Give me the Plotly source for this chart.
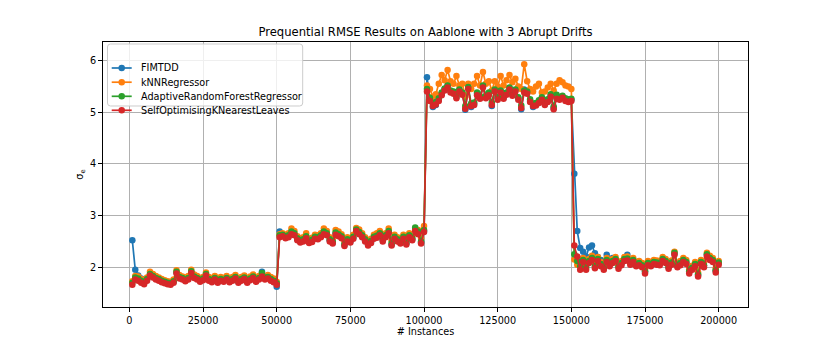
import plotly.graph_objects as go

instances = list(range(1000, 200001, 1000))

fimtdd_1 = [2.52,1.95,1.84,1.78,1.71,1.77,1.86,1.82,1.78,1.76,1.73,1.71,1.69,1.68,1.72,1.90,1.80,1.78,1.75,1.78,1.91,1.81,1.78,1.74,1.77,1.86,1.76,1.73,1.78,1.72,1.76,1.74,1.78,1.73,1.76,1.80,1.72,1.76,1.79,1.72,1.77,1.81,1.74,1.78,1.91,1.79,1.80,1.76,1.72,1.62]
fimtdd_2 = [2.69,2.62,2.58,2.60,2.66,2.63,2.54,2.50,2.52,2.58,2.49,2.51,2.57,2.56,2.60,2.66,2.64,2.52,2.48,2.65,2.62,2.58,2.43,2.52,2.50,2.57,2.71,2.66,2.60,2.52,2.44,2.49,2.57,2.59,2.64,2.52,2.60,2.68,2.44,2.57,2.52,2.48,2.57,2.46,2.60,2.54,2.72,2.66,2.48,2.70]
fimtdd_3 = [5.68,5.26,5.10,5.14,5.24,5.36,5.45,5.52,5.40,5.39,5.30,5.43,5.37,5.05,5.47,5.10,5.16,5.36,5.28,5.50,5.30,5.36,5.12,5.42,5.27,5.41,5.28,5.37,5.47,5.34,5.43,5.27,5.06,5.44,5.38,5.22,5.10,5.15,5.20,5.27,5.16,5.22,5.32,5.08,5.28,5.26,5.30,5.24,5.22,5.24]
fimtdd_4 = [3.81,2.70,2.37,2.30,2.21,2.38,2.42,2.27,2.20,2.14,2.10,2.24,2.15,2.18,2.14,2.03,2.08,2.15,2.24,2.10,2.13,2.05,2.07,2.03,1.91,2.07,2.05,2.09,2.08,2.07,2.15,2.11,2.00,2.08,2.26,2.03,2.07,2.13,2.09,1.91,1.98,2.05,1.85,2.09,2.03,2.24,2.17,2.13,1.93,2.08]

knn_1 = [1.73,1.83,1.82,1.77,1.73,1.80,1.91,1.87,1.83,1.80,1.77,1.75,1.73,1.72,1.76,1.94,1.85,1.82,1.80,1.83,1.95,1.86,1.83,1.79,1.81,1.90,1.81,1.78,1.83,1.77,1.81,1.79,1.83,1.78,1.81,1.85,1.77,1.81,1.84,1.77,1.82,1.86,1.79,1.83,1.87,1.82,1.85,1.81,1.78,1.72]
knn_2 = [2.64,2.66,2.63,2.66,2.75,2.70,2.60,2.56,2.58,2.66,2.55,2.57,2.63,2.62,2.66,2.75,2.70,2.58,2.55,2.72,2.69,2.64,2.50,2.58,2.56,2.63,2.76,2.73,2.66,2.58,2.50,2.55,2.63,2.66,2.70,2.58,2.66,2.75,2.52,2.63,2.58,2.55,2.63,2.53,2.66,2.60,2.74,2.72,2.55,2.80]
knn_3 = [5.52,5.45,5.30,5.35,5.55,5.72,5.62,5.82,5.60,5.55,5.70,5.52,5.55,5.30,5.55,5.45,5.55,5.70,5.52,5.78,5.55,5.60,5.42,5.60,5.50,5.70,5.52,5.62,5.72,5.58,5.65,5.50,5.45,5.93,5.60,5.45,5.40,5.50,5.55,5.38,5.40,5.48,5.55,5.42,5.55,5.62,5.58,5.52,5.50,5.45]
knn_4 = [2.15,2.05,2.08,2.18,2.03,2.16,2.22,2.06,2.20,2.10,2.03,2.18,2.10,2.16,2.20,2.05,2.12,2.20,2.21,2.13,2.18,2.10,2.12,2.08,1.96,2.12,2.10,2.14,2.13,2.12,2.20,2.16,2.05,2.13,2.30,2.08,2.12,2.18,2.14,1.96,2.03,2.10,1.90,2.14,2.08,2.28,2.22,2.18,1.98,2.12]

arf_1 = [1.70,1.80,1.78,1.74,1.70,1.77,1.87,1.83,1.79,1.77,1.74,1.72,1.70,1.69,1.73,1.91,1.81,1.79,1.76,1.79,1.92,1.82,1.79,1.75,1.78,1.87,1.77,1.74,1.79,1.73,1.77,1.75,1.79,1.74,1.77,1.81,1.73,1.77,1.80,1.73,1.78,1.82,1.75,1.79,1.89,1.80,1.81,1.77,1.74,1.69]
arf_2 = [2.62,2.63,2.60,2.62,2.69,2.66,2.56,2.52,2.54,2.60,2.51,2.53,2.59,2.58,2.62,2.69,2.66,2.54,2.50,2.67,2.64,2.60,2.45,2.54,2.52,2.59,2.73,2.68,2.62,2.54,2.46,2.51,2.59,2.61,2.66,2.54,2.62,2.70,2.47,2.59,2.54,2.50,2.59,2.48,2.62,2.56,2.77,2.69,2.50,2.72]
arf_3 = [5.45,5.28,5.18,5.20,5.27,5.38,5.46,5.52,5.42,5.40,5.32,5.44,5.38,5.12,5.49,5.17,5.19,5.38,5.31,5.52,5.32,5.38,5.19,5.44,5.29,5.42,5.31,5.38,5.48,5.37,5.44,5.29,5.13,5.42,5.40,5.25,5.17,5.18,5.23,5.29,5.19,5.25,5.35,5.11,5.34,5.29,5.32,5.27,5.25,5.26]
arf_4 = [2.25,2.12,2.02,2.14,1.99,2.12,2.18,2.02,2.16,2.06,1.99,2.14,2.06,2.12,2.16,2.01,2.08,2.16,2.17,2.09,2.14,2.06,2.08,2.04,1.92,2.08,2.06,2.10,2.09,2.08,2.16,2.12,2.01,2.09,2.28,2.04,2.08,2.14,2.10,1.92,1.99,2.06,1.86,2.10,2.04,2.25,2.18,2.14,1.94,2.09]

soknl_1 = [1.66,1.76,1.74,1.70,1.67,1.74,1.84,1.80,1.76,1.74,1.71,1.69,1.67,1.66,1.70,1.88,1.78,1.76,1.73,1.76,1.89,1.79,1.76,1.72,1.75,1.84,1.74,1.71,1.76,1.70,1.74,1.72,1.76,1.71,1.74,1.78,1.70,1.74,1.77,1.70,1.75,1.79,1.72,1.76,1.82,1.76,1.78,1.74,1.71,1.66]
soknl_2 = [2.58,2.60,2.56,2.58,2.64,2.62,2.52,2.48,2.50,2.56,2.47,2.49,2.55,2.54,2.58,2.64,2.62,2.50,2.46,2.63,2.60,2.56,2.41,2.50,2.48,2.55,2.70,2.64,2.58,2.50,2.42,2.47,2.55,2.57,2.62,2.50,2.58,2.66,2.42,2.55,2.50,2.46,2.55,2.44,2.58,2.52,2.70,2.64,2.46,2.68]
soknl_3 = [5.40,5.22,5.12,5.15,5.22,5.33,5.42,5.48,5.38,5.36,5.27,5.40,5.34,5.07,5.45,5.12,5.14,5.33,5.26,5.48,5.27,5.33,5.14,5.40,5.24,5.38,5.26,5.34,5.44,5.32,5.40,5.24,5.08,5.38,5.36,5.20,5.12,5.13,5.18,5.24,5.14,5.20,5.30,5.06,5.26,5.24,5.28,5.22,5.20,5.22]
soknl_4 = [2.42,2.21,1.95,2.10,1.95,2.08,2.14,1.98,2.12,2.02,1.95,2.10,2.02,2.08,2.12,1.97,2.04,2.12,2.13,2.05,2.10,2.02,2.04,2.00,1.88,2.04,2.02,2.06,2.05,2.04,2.12,2.08,1.97,2.05,2.24,2.00,2.04,2.10,2.06,1.88,1.95,2.02,1.82,2.06,2.00,2.21,2.14,2.10,1.90,2.05]

series_names = ["FIMTDD", "kNNRegressor", "AdaptiveRandomForestRegressor", "SelfOptimisingKNearestLeaves"]
series_values = [
    fimtdd_1 + fimtdd_2 + fimtdd_3 + fimtdd_4,
    knn_1 + knn_2 + knn_3 + knn_4,
    arf_1 + arf_2 + arf_3 + arf_4,
    soknl_1 + soknl_2 + soknl_3 + soknl_4,
]
colors = ["#1f77b4", "#ff7f0e", "#2ca02c", "#d62728"]
x_ticks = [0, 25000, 50000, 75000, 100000, 125000, 150000, 175000, 200000]
y_ticks = [2, 3, 4, 5, 6]

font_family = "DejaVu Sans, sans-serif"
tick_size = 9.7

fig = go.Figure()
for name, vals, c in zip(series_names, series_values, colors):
    fig.add_trace(go.Scatter(
        x=instances, y=vals, name=name, mode="lines+markers",
        line=dict(color=c, width=1.7),
        marker=dict(color=c, size=6.5, symbol="circle"),
        showlegend=False,
    ))

# Legend drawn in paper coordinates (matplotlib-like compact rows, rounded frame)
plot_w, plot_h = 645.0, 265.0
bx0, bx1, by0, by1 = 0.007, 0.3096, 0.7585, 0.9925
cr_x, cr_y = 3.0 / plot_w, 3.0 / plot_h
frame_path = (
    f"M {bx0+cr_x},{by0} L {bx1-cr_x},{by0} Q {bx1},{by0} {bx1},{by0+cr_y} "
    f"L {bx1},{by1-cr_y} Q {bx1},{by1} {bx1-cr_x},{by1} "
    f"L {bx0+cr_x},{by1} Q {bx0},{by1} {bx0},{by1-cr_y} "
    f"L {bx0},{by0+cr_y} Q {bx0},{by0} {bx0+cr_x},{by0} Z"
)
shapes = [dict(type="path", xref="paper", yref="paper", path=frame_path,
               fillcolor="rgba(255,255,255,0.8)", line=dict(color="#cccccc", width=1),
               layer="above")]
annotations = []
row_y = [0.9019, 0.8483, 0.7951, 0.7423]
rx = 3.25 / plot_w
ry = 3.25 / plot_h
for name, c, yy in zip(series_names, colors, row_y):
    shapes.append(dict(type="line", xref="paper", yref="paper",
                       x0=0.0135, x1=0.0445, y0=yy, y1=yy,
                       line=dict(color=c, width=1.7), layer="above"))
    shapes.append(dict(type="circle", xref="paper", yref="paper",
                       x0=0.029 - rx, x1=0.029 + rx, y0=yy - ry, y1=yy + ry,
                       fillcolor=c, line=dict(color=c, width=0), layer="above"))
    annotations.append(dict(text=name, xref="paper", yref="paper", x=0.0555, y=yy,
                            xanchor="left", yanchor="middle", showarrow=False,
                            font=dict(family=font_family, size=tick_size, color="black")))

axis_common = dict(
    showline=True, linecolor="black", linewidth=1, mirror=True,
    ticks="outside", ticklen=4, tickwidth=1, tickcolor="black",
    showgrid=True, gridcolor="#b0b0b0", gridwidth=0.8,
    zeroline=False, tickfont=dict(family=font_family, size=tick_size, color="black"),
    automargin=False,
)

fig.update_layout(
    width=822, height=338,
    margin=dict(l=95, r=82, t=34, b=39),
    paper_bgcolor="white", plot_bgcolor="white",
    font=dict(family=font_family, color="black"),
    title=dict(text="Prequential RMSE Results on Aablone with 3 Abrupt Drifts",
               x=0.5, xref="paper", xanchor="center", y=0.929, yref="container", yanchor="middle",
               font=dict(family=font_family, size=11.6, color="black")),
    xaxis=dict(range=[-8950, 209950], tickvals=x_ticks, tickformat="d",
               title=dict(text="# Instances", standoff=3, font=dict(family=font_family, size=tick_size)),
               **axis_common),
    yaxis=dict(range=[1.23, 6.36], tickvals=y_ticks,
               title=dict(text="σ<sub>e</sub>", standoff=4, font=dict(family=font_family, size=tick_size)),
               **axis_common),
    shapes=shapes,
    annotations=annotations,
    showlegend=False,
)

fig.write_html("out.html")
